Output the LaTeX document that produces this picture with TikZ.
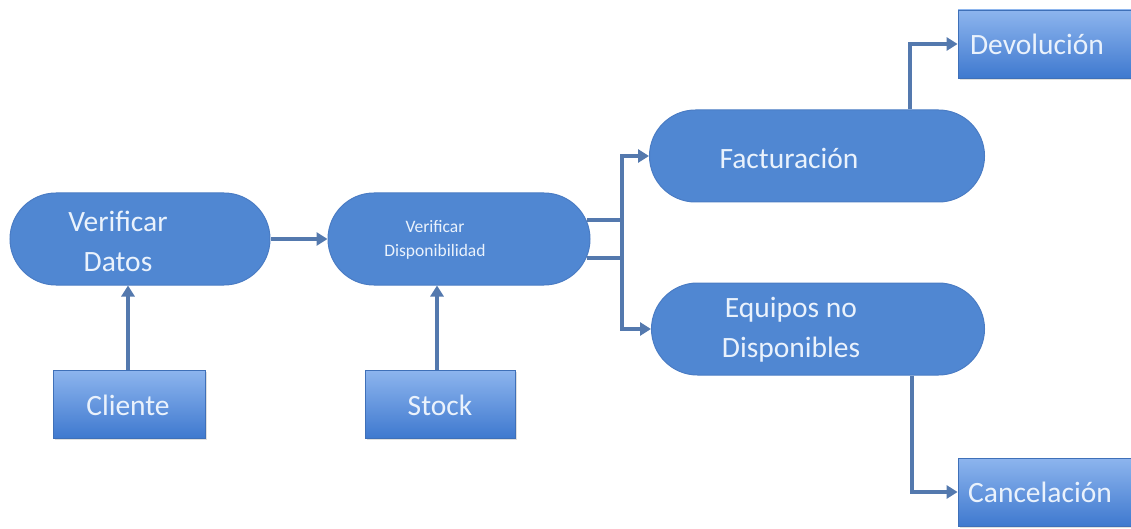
\documentclass[tikz,border=0pt]{standalone}
\usepackage{fontspec}
\setmainfont{Carlito}
\usetikzlibrary{shapes.misc,arrows.meta,shadows}
\definecolor{pillblue}{HTML}{5087D2}
\definecolor{pillborder}{HTML}{4A7CC4}
\definecolor{rtop}{HTML}{8DB5EE}
\definecolor{rbot}{HTML}{3F79CF}
\definecolor{rborder}{HTML}{3F70B8}
\definecolor{txt}{HTML}{EAF2FC}
\definecolor{arrcol}{HTML}{5479AE}
\tikzset{
  pill/.style={rounded rectangle, draw=pillborder, line width=1pt, fill=pillblue, inner sep=0pt, minimum height=92pt},
  boxnode/.style={rectangle, draw=rborder, line width=0.8pt, top color=rtop, bottom color=rbot, inner sep=0pt, minimum height=68pt,
     drop shadow={opacity=0.25, shadow xshift=2pt, shadow yshift=-2pt}},
  big/.style={text=txt, font=\fontsize{29.5}{40}\selectfont, align=center, inner sep=0pt},
  small/.style={text=txt, font=\fontsize{17.5}{24}\selectfont, align=center, inner sep=0pt},
  arr/.style={draw=arrcol, line width=3.6pt, -{Triangle[length=11pt,width=13pt]}}
}
\begin{document}
\begin{tikzpicture}[x=1pt,y=-1pt]
\useasboundingbox (0,0) rectangle (1131,529);
% pills
\node[pill, minimum width=260pt] (vd) at (140,239) {};
\node[pill, minimum width=262pt] (vdisp) at (459,239) {};
\node[pill, minimum width=335pt] (fact) at (817,156) {};
\node[pill, minimum width=333pt] (equip) at (818,329) {};
% boxes
\node[boxnode, minimum width=152pt] (cli) at (129,404) {};
\node[boxnode, minimum width=150pt] (stock) at (440,404) {};
\node[boxnode, minimum width=176pt] (dev) at (1046,44) {};
\node[boxnode, minimum width=176pt] (canc) at (1046,492) {};
% texts
\node[big] (vdT) at (118,241) {Verificar\\Datos};
\node[small] (vdispT) at (435,240) {Verificar\\Disponibilidad};
\node[big] (factT) at (789,158) {Facturación};
\node[big] (equipT) at (791,330) {Equipos no\\Disponibles};
\node[big] (cliT) at (128,405) {Cliente};
\node[big] (stockT) at (440,405) {Stock};
\node[big] (devT) at (1037,44) {Devolución};
\node[big] (cancT) at (1040,492) {Cancelación};
% junction coordinates
\coordinate (jx) at (622,0);
\coordinate (xd) at (910,0);
\coordinate (xc) at (912,0);
\coordinate (s1) at ([shift={(-4pt,-19pt)}]vdisp.east);
\coordinate (s2) at ([shift={(-4pt,19pt)}]vdisp.east);
% connectors
\draw[arr] (vd.east) -- (vdisp.west);
\draw[arr] ([xshift=-1pt]cli.north) -- ([xshift=-1pt]cli.north |- vd.south);
\draw[arr] ([xshift=-3pt]stock.north) -- ([xshift=-3pt]stock.north |- vdisp.south);
\draw[arr] (s1) -- (s1 -| jx) -- (jx |- fact.west) -- (fact.west);
\draw[arr] (s2) -- (s2 -| jx) -- (jx |- equip.west) -- (equip.west);
\draw[arr] (fact.north -| xd) |- (dev.west);
\draw[arr] (equip.south -| xc) |- (canc.west);
\end{tikzpicture}
\end{document}
